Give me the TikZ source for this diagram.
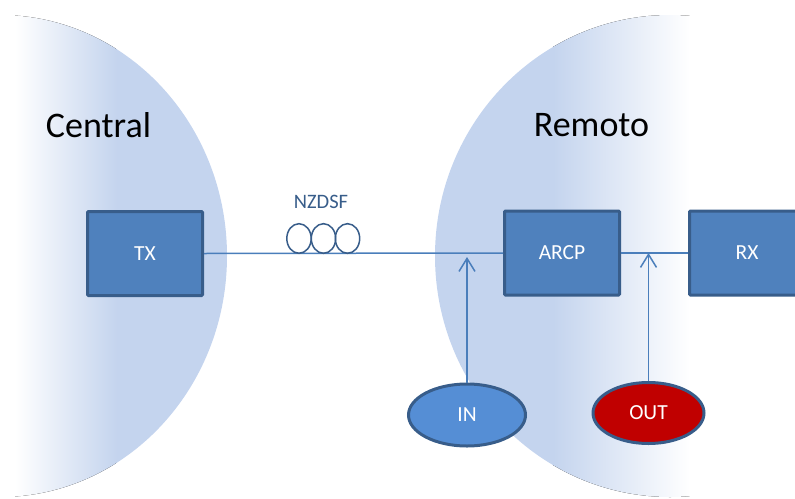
\documentclass[tikz,border=0pt]{standalone}
\usepackage{fontspec}
\setmainfont{Carlito}
\usetikzlibrary{arrows.meta,shapes.geometric}
\definecolor{skyfill}{RGB}{196,212,238}
\definecolor{boxfill}{RGB}{79,129,189}
\definecolor{boxedge}{RGB}{56,93,138}
\definecolor{infill}{RGB}{85,142,213}
\definecolor{outfill}{RGB}{192,0,0}
\definecolor{wire}{RGB}{74,126,187}

\tikzset{
  unit/.style={draw=boxedge,fill=boxfill,line width=3pt,rounded corners=1pt,
    minimum width=115pt,minimum height=84pt,inner sep=0pt,text=white,
    font=\fontsize{21.5}{26}\selectfont},
  port/.style={ellipse,draw=boxedge,line width=3pt,inner sep=0pt,text=white,
    font=\fontsize{21.5}{26}\selectfont},
  wireline/.style={draw=wire,line width=1.5pt},
  sitelabel/.style={font=\fontsize{36}{43}\selectfont}
}

\begin{document}
\begin{tikzpicture}[x=1pt,y=-1pt]
  \useasboundingbox (0,0) rectangle (795,498);
  % left and right regions
  \begin{scope}
    \clip (0,256) ellipse[x radius=227,y radius=241];
    \fill[left color=white,right color=skyfill] (15,0) rectangle (117,498);
    \fill[skyfill] (116.5,0) rectangle (230,498);
  \end{scope}
  \begin{scope}
    \clip (670,256) ellipse[x radius=235,y radius=241];
    \fill[skyfill] (430,0) rectangle (553.5,498);
    \fill[left color=skyfill,right color=white] (553,0) rectangle (690,498);
  \end{scope}
  \node[sitelabel] (central) at (98.5,125.5) {Central};
  \node[sitelabel] (remoto) at (591.5,125.5) {Remoto};
  % blocks
  \node[unit] (TX) at (145,253.5) {TX};
  \node[unit] (ARCP) at (562,253) {ARCP};
  \node[unit] (RX) at (747,253) {RX};
  \node[port,fill=infill,minimum width=117pt,minimum height=62pt] (IN) at (467,415) {IN};
  \node[port,fill=outfill,minimum width=111pt,minimum height=61pt] (OUT) at (648.5,413) {OUT};
  % fibre link
  \draw[wireline] (TX.east) -- (ARCP.west);
  \draw[wireline] (ARCP.east) -- (RX.west);
  \foreach \cx in {299,323.5,347.5}
    \draw[boxedge,line width=1.5pt] (\cx,238.5) ellipse[x radius=12.2,y radius=14.8];
  \node[text=boxedge,font=\fontsize{20.5}{25}\selectfont] (fibre) at (321,201.5) {NZDSF};
  % add / drop
  \coordinate (inTip) at (467,257);
  \draw[wireline,-{Straight Barb[length=13pt,width=16pt]}] (IN.north) -- (inTip);
  \draw[wireline,-{Straight Barb[length=13pt,width=16pt]}] (OUT.north) -- (OUT.north |- RX.west);
\end{tikzpicture}
\end{document}
